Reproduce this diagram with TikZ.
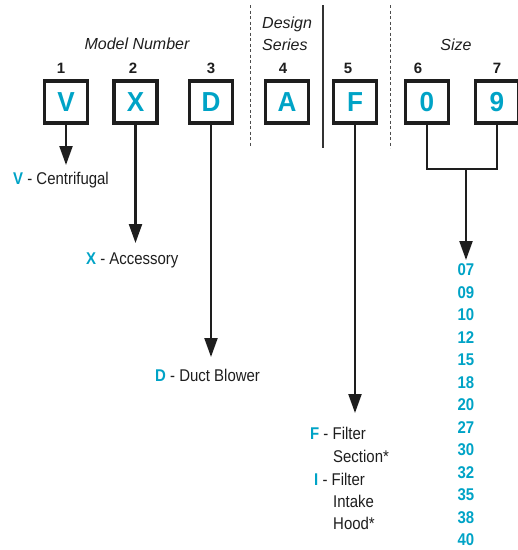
\documentclass[tikz,border=0pt]{standalone}
\usepackage{fontspec}
\setmainfont{Liberation Sans}
\newfontfamily\narrowfont[FakeStretch=0.88]{Liberation Sans}
\newfontfamily\boxfont[FakeStretch=0.95]{Liberation Sans}
\usetikzlibrary{arrows.meta}
\definecolor{cy}{RGB}{0,163,198}
\definecolor{ink}{RGB}{30,30,30}
\begin{document}
\begin{tikzpicture}[x=1pt,y=-1pt,
  letterbox/.style={draw=ink,line width=3.5pt,minimum width=43pt,minimum height=42pt,inner sep=0pt,
    font=\boxfont\fontsize{27.5}{27.5}\selectfont\bfseries,text=cy},
  digit/.style={inner sep=0pt,font=\fontsize{15}{15}\selectfont\bfseries,text=ink},
  head/.style={inner sep=0pt,font=\fontsize{16}{22.5}\selectfont\itshape,text=ink},
  lbl/.style={inner sep=0pt,font=\narrowfont\fontsize{17}{17}\selectfont,text=ink,anchor=west},
  sizenum/.style={inner sep=0pt,font=\narrowfont\fontsize{17}{17}\selectfont\bfseries,text=cy},
  conn/.style={draw=ink,line width=2.2pt},
  arr/.style={conn,-{Triangle[length=19pt,width=13pt]}},
  sep/.style={draw=black!70,line width=1pt,dash pattern=on 3pt off 2.5pt},
  solidsep/.style={draw=black!80,line width=1.3pt}
]
\useasboundingbox (0,0) rectangle (518,550);

% headings
\node[head] (hmodel) at (137,44) {Model Number};
\node[head,align=left,anchor=west] (hdesign) at (262,34) {Design\\Series};
\node[head] (hsize) at (456,45) {Size};

% separators
\coordinate (s1t) at (250,5); \coordinate (s1b) at (250,146);
\coordinate (s2t) at (323,5); \coordinate (s2b) at (323,148);
\coordinate (s3t) at (390,5); \coordinate (s3b) at (390,148);
\draw[sep] (s1t) -- (s1b);
\draw[solidsep] (s2t) -- (s2b);
\draw[sep] (s3t) -- (s3b);

% boxes
\node[letterbox] (b1) at (66,102) {V};
\node[letterbox] (b2) at (135.5,102) {X};
\node[letterbox] (b3) at (211,102) {D};
\node[letterbox] (b4) at (287,102) {A};
\node[letterbox] (b5) at (355,102) {F};
\node[letterbox] (b6) at (427,102) {0};
\node[letterbox] (b7) at (497,102) {9};

% position numbers
\node[digit] (n1) at (61,68) {1};
\node[digit] (n2) at (133,68) {2};
\node[digit] (n3) at (211,68) {3};
\node[digit] (n4) at (283,68) {4};
\node[digit] (n5) at (348,68) {5};
\node[digit] (n6) at (418,68) {6};
\node[digit] (n7) at (497,68) {7};

% labels
\node[lbl] (lv) at (13,180) {\textcolor{cy}{\bfseries V} - Centrifugal};
\node[lbl] (lx) at (86,260) {\textcolor{cy}{\bfseries X} - Accessory};
\node[lbl] (ld) at (155,375) {\textcolor{cy}{\bfseries D} - Duct Blower};
\node[lbl] (lf1) at (310,433) {\textcolor{cy}{\bfseries F} - Filter};
\node[lbl] (lf2) at (333,456) {Section*};
\node[lbl] (li1) at (314,479) {\textcolor{cy}{\bfseries I} - Filter};
\node[lbl] (li2) at (333,501) {Intake};
\node[lbl] (li3) at (333,523) {Hood*};

% arrows
\coordinate (t1) at (66,165);
\coordinate (t2) at (135.5,243);
\coordinate (t3) at (211,357);
\coordinate (t5) at (355,413);
\draw[arr] (b1.south) -- (t1);
\draw[arr] (b2.south) -- (t2);
\draw[arr] (b3.south) -- (t3);
\draw[arr] (b5.south) -- (t5);

% size bracket
\coordinate (bm) at (466,169);
\coordinate (t6) at (466,260);
\draw[conn,line width=2pt] (b6.south) |- (bm) -| (b7.south);
\draw[arr] (bm) -- (t6);

% size numbers
\foreach \v [count=\i from 0] in {07,09,10,12,15,18,20,27,30,32,35,38,40}{
  \node[sizenum] (sz\v) at (466,{270+22.5*\i}) {\v};
}
\end{tikzpicture}
\end{document}
